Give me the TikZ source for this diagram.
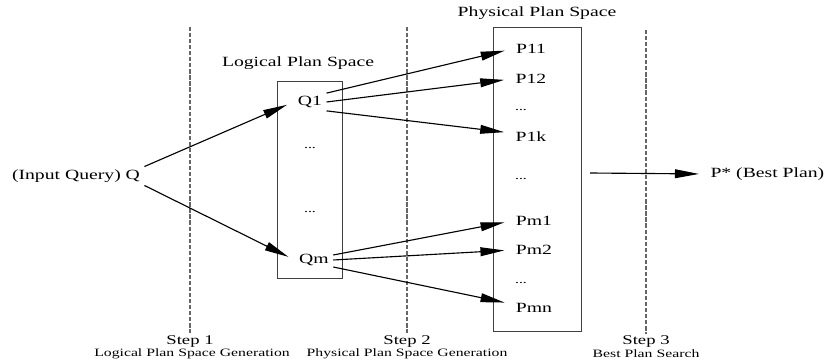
\documentclass[tikz,border=0pt]{standalone}
\usepackage{fontspec}
\setmainfont{Liberation Serif}[FakeStretch=1.4]
\usetikzlibrary{calc,arrows.meta}

\begin{document}
\begin{tikzpicture}[x={(0.025cm,0cm)},y={(0cm,-0.025cm)},
  >={Triangle[length=6mm,width=2.2mm]},
  txt/.style={font=\fontsize{10}{12}\selectfont,inner xsep=3pt,inner ysep=2pt},
  plan/.style={txt},
  dotsl/.style={font=\fontsize{8}{10}\selectfont,inner sep=1pt},
  spacebox/.style={draw=black!75,line width=0.7pt},
  stepline/.style={gray!80!black,line width=0.9pt,dash pattern=on 3pt off 1.3pt},
  flow/.style={->,line width=0.8pt,shorten >=5pt}]
  \useasboundingbox (0,0) rectangle (827,360);
  % step separators
  \draw[stepline] (190,27) -- (190,333);
  \draw[stepline] (407,27) -- (407,333);
  \draw[stepline] (646,30) -- (646,334);
  \node[font=\fontsize{9.5}{11}\selectfont] (s1) at (190,341) {Step 1};
  \node[font=\fontsize{8}{10}\selectfont] (s1t) at (192,354) {Logical Plan Space Generation};
  \node[font=\fontsize{9.5}{11}\selectfont] (s2) at (407,341) {Step 2};
  \node[font=\fontsize{8}{10}\selectfont] (s2t) at (407,354) {Physical Plan Space Generation};
  \node[font=\fontsize{9.5}{11}\selectfont] (s3) at (646,341) {Step 3};
  \node[font=\fontsize{8}{10}\selectfont] (s3t) at (646,354) {Best Plan Search};
  % plan spaces
  \draw[spacebox] (277,81) rectangle (342,278);
  \draw[spacebox] (493,27) rectangle (581,331);
  \node[txt] (lps) at (298,63) {Logical Plan Space};
  \node[txt] (pps) at (537,13) {Physical Plan Space};
  % input query
  \node[txt] (q) at (76,176) {(Input Query) Q};
  % logical plans
  \node[plan] (q1) at (310,102) {Q1};
  \node[dotsl] (ld1) at (310,148) {...};
  \node[dotsl] (ld2) at (310,212) {...};
  \node[plan] (qm) at (314,260) {Qm};
  % physical plans
  \node[plan] (p11) at (531,49) {P11};
  \node[plan] (p12) at (531,79) {P12};
  \node[dotsl] (pd1) at (521,110) {...};
  \node[plan] (p1k) at (531,137) {P1k};
  \node[dotsl] (pd2) at (521,179) {...};
  \node[plan] (pm1) at (534,221) {Pm1};
  \node[plan] (pm2) at (534,250) {Pm2};
  \node[dotsl] (pd3) at (521,283) {...};
  \node[plan] (pmn) at (534,308) {Pmn};
  % best plan
  \node[txt,anchor=west] (best) at (706,174) {P* (Best Plan)};
  \coordinate (bs) at (590,173);
  % arrows
  \draw[flow] (q.north east) -- (q1.west);
  \draw[flow] (q.south east) -- (qm.west);
  \draw[flow] (q1.north east) -- (p11.west);
  \draw[flow] (q1.east) -- (p12.west);
  \draw[flow] (q1.south east) -- ($(p1k.west)+(0,-4)$);
  \draw[flow] ($(qm.east)+(0,-5)$) -- (pm1.west);
  \draw[flow] (qm.east) -- (pm2.west);
  \draw[flow] ($(qm.east)+(0,7)$) -- ($(pmn.west)+(0,-4)$);
  \draw[flow] (bs) -- (best.west);
\end{tikzpicture}
\end{document}
